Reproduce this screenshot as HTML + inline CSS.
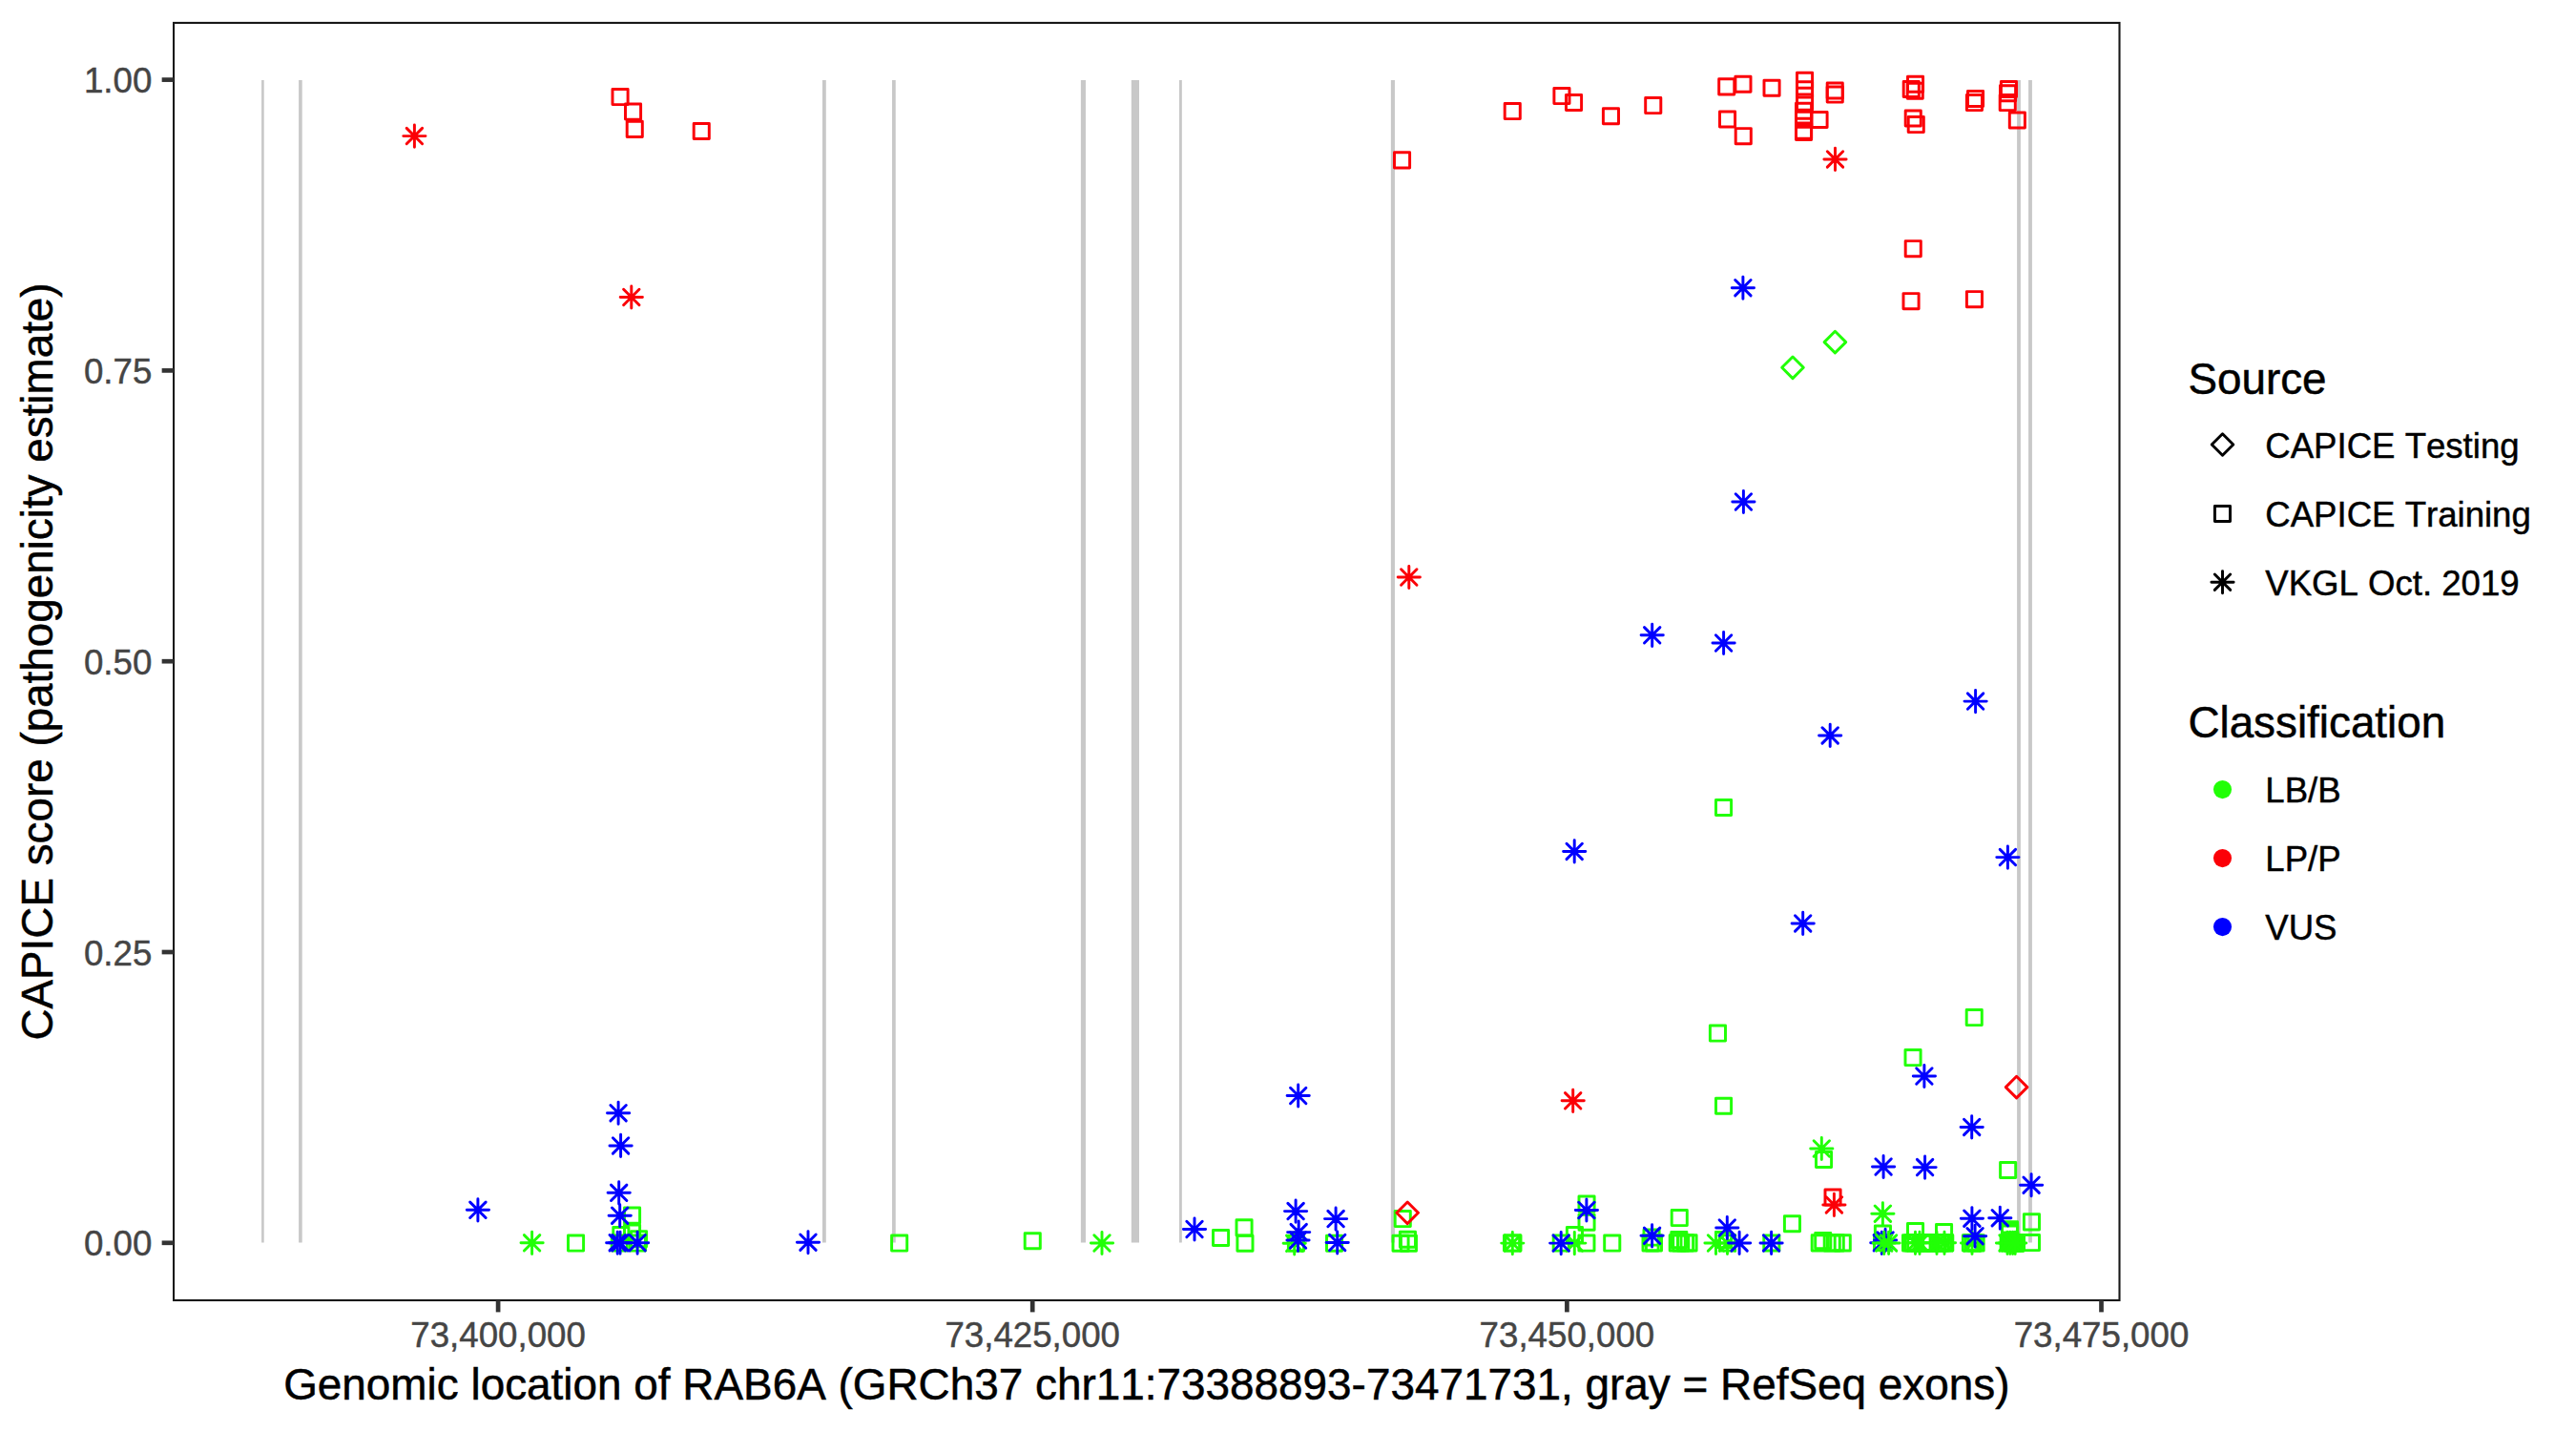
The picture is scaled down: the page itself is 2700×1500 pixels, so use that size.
<!DOCTYPE html>
<html><head><meta charset="utf-8"><title>CAPICE RAB6A</title>
<style>
html,body{margin:0;padding:0;background:#fff;}
body{width:2700px;height:1500px;overflow:hidden;}
svg{display:block;font-family:"Liberation Sans",sans-serif;font-kerning:none;}
.pts *{fill:none;stroke-width:2.95;stroke-linecap:round;stroke-linejoin:round}
.at{font-size:36.7px;fill:#454545;stroke:#454545;stroke-width:0.45}
.ti{font-size:45.8px;fill:#000;stroke:#000;stroke-width:0.5}
.lt{font-size:36.6px;fill:#000;stroke:#000;stroke-width:0.45}
</style></head><body>
<svg width="2700" height="1500" viewBox="0 0 2700 1500">
<rect x="0" y="0" width="2700" height="1500" fill="#fff"/>

<g stroke="#c8c8c8" fill="none">
<line x1="275.4" x2="275.4" y1="84.1" y2="1302.6" stroke-width="2.6"/>
<line x1="314.9" x2="314.9" y1="84.1" y2="1302.6" stroke-width="3.6"/>
<line x1="863.9" x2="863.9" y1="84.1" y2="1302.6" stroke-width="3.8"/>
<line x1="936.9" x2="936.9" y1="84.1" y2="1302.6" stroke-width="3.7"/>
<line x1="1135.4" x2="1135.4" y1="84.1" y2="1302.6" stroke-width="5.1"/>
<line x1="1189.9" x2="1189.9" y1="84.1" y2="1302.6" stroke-width="8.2"/>
<line x1="1237.4" x2="1237.4" y1="84.1" y2="1302.6" stroke-width="2.9"/>
<line x1="1459.9" x2="1459.9" y1="84.1" y2="1302.6" stroke-width="4.1"/>
<line x1="2116.0" x2="2116.0" y1="84.1" y2="1302.6" stroke-width="3.8"/>
<line x1="2128.0" x2="2128.0" y1="84.1" y2="1302.6" stroke-width="3.8"/>
</g>
<g class="pts">
<path d="M1867.7 385.3L1879.0 374.0L1890.3 385.3L1879.0 396.6Z" stroke="#21ff06"/>
<path d="M1912.1 358.6L1923.4 347.3L1934.7 358.6L1923.4 369.9Z" stroke="#21ff06"/>
<rect x="1798.5" y="838.4" width="16.1" height="16.1" stroke="#21ff06"/>
<rect x="1792.4" y="1075.0" width="16.1" height="16.1" stroke="#21ff06"/>
<rect x="1798.5" y="1151.2" width="16.1" height="16.1" stroke="#21ff06"/>
<rect x="2061.2" y="1058.5" width="16.1" height="16.1" stroke="#21ff06"/>
<rect x="1997.0" y="1100.5" width="16.1" height="16.1" stroke="#21ff06"/>
<path d="M1897.7 1204.0H1920.9M1909.3 1192.4V1215.6M1901.1 1195.8L1917.5 1212.2M1901.1 1212.2L1917.5 1195.8" stroke="#21ff06"/>
<rect x="1903.5" y="1207.4" width="16.1" height="16.1" stroke="#21ff06"/>
<rect x="2096.6" y="1218.4" width="16.1" height="16.1" stroke="#21ff06"/>
<path d="M1961.8 1272.2H1985.0M1973.4 1260.6V1283.8M1965.2 1264.0L1981.6 1280.4M1965.2 1280.4L1981.6 1264.0" stroke="#21ff06"/>
<rect x="1752.2" y="1268.5" width="16.1" height="16.1" stroke="#21ff06"/>
<rect x="1870.4" y="1274.7" width="16.1" height="16.1" stroke="#21ff06"/>
<rect x="2121.4" y="1272.8" width="16.1" height="16.1" stroke="#21ff06"/>
<rect x="1999.5" y="1282.4" width="16.1" height="16.1" stroke="#21ff06"/>
<rect x="2029.5" y="1283.5" width="16.1" height="16.1" stroke="#21ff06"/>
<rect x="1965.4" y="1285.0" width="16.1" height="16.1" stroke="#21ff06"/>
<rect x="2098.5" y="1280.7" width="16.1" height="16.1" stroke="#21ff06"/>
<rect x="1723.0" y="1289.0" width="16.1" height="16.1" stroke="#21ff06"/>
<rect x="1725.4" y="1294.8" width="16.1" height="16.1" stroke="#21ff06"/>
<rect x="1722.0" y="1294.8" width="16.1" height="16.1" stroke="#21ff06"/>
<rect x="1751.8" y="1291.5" width="16.1" height="16.1" stroke="#21ff06"/>
<rect x="1750.2" y="1294.8" width="16.1" height="16.1" stroke="#21ff06"/>
<rect x="1753.7" y="1294.8" width="16.1" height="16.1" stroke="#21ff06"/>
<rect x="1758.5" y="1294.8" width="16.1" height="16.1" stroke="#21ff06"/>
<rect x="1762.0" y="1294.8" width="16.1" height="16.1" stroke="#21ff06"/>
<path d="M1786.9 1303.0H1810.1M1798.5 1291.4V1314.6M1790.3 1294.8L1806.7 1311.2M1790.3 1311.2L1806.7 1294.8" stroke="#21ff06"/>
<path d="M1798.9 1303.0H1822.1M1810.5 1291.4V1314.6M1802.3 1294.8L1818.7 1311.2M1802.3 1311.2L1818.7 1294.8" stroke="#21ff06"/>
<rect x="1802.5" y="1294.8" width="16.1" height="16.1" stroke="#21ff06"/>
<rect x="1798.7" y="1291.5" width="16.1" height="16.1" stroke="#21ff06"/>
<rect x="1848.8" y="1294.9" width="16.1" height="16.1" stroke="#21ff06"/>
<rect x="1899.2" y="1294.8" width="16.1" height="16.1" stroke="#21ff06"/>
<rect x="1902.7" y="1292.5" width="16.1" height="16.1" stroke="#21ff06"/>
<rect x="1912.2" y="1294.8" width="16.1" height="16.1" stroke="#21ff06"/>
<rect x="1916.2" y="1294.8" width="16.1" height="16.1" stroke="#21ff06"/>
<rect x="1923.2" y="1294.8" width="16.1" height="16.1" stroke="#21ff06"/>
<rect x="1964.5" y="1294.5" width="16.1" height="16.1" stroke="#21ff06"/>
<rect x="1994.5" y="1294.8" width="16.1" height="16.1" stroke="#21ff06"/>
<rect x="1997.0" y="1294.8" width="16.1" height="16.1" stroke="#21ff06"/>
<rect x="1999.7" y="1294.8" width="16.1" height="16.1" stroke="#21ff06"/>
<rect x="2007.2" y="1294.8" width="16.1" height="16.1" stroke="#21ff06"/>
<rect x="2009.8" y="1294.8" width="16.1" height="16.1" stroke="#21ff06"/>
<rect x="2012.4" y="1294.8" width="16.1" height="16.1" stroke="#21ff06"/>
<rect x="2015.0" y="1294.8" width="16.1" height="16.1" stroke="#21ff06"/>
<rect x="2023.2" y="1294.8" width="16.1" height="16.1" stroke="#21ff06"/>
<rect x="2025.9" y="1294.8" width="16.1" height="16.1" stroke="#21ff06"/>
<rect x="2028.5" y="1294.8" width="16.1" height="16.1" stroke="#21ff06"/>
<rect x="2030.7" y="1294.8" width="16.1" height="16.1" stroke="#21ff06"/>
<path d="M1995.9 1302.8H2019.1M2007.5 1291.2V1314.4M1999.3 1294.6L2015.7 1311.0M1999.3 1311.0L2015.7 1294.6" stroke="#21ff06"/>
<path d="M2000.4 1302.8H2023.6M2012.0 1291.2V1314.4M2003.8 1294.6L2020.2 1311.0M2003.8 1311.0L2020.2 1294.6" stroke="#21ff06"/>
<path d="M2026.4 1302.8H2049.6M2038.0 1291.2V1314.4M2029.8 1294.6L2046.2 1311.0M2029.8 1311.0L2046.2 1294.6" stroke="#21ff06"/>
<path d="M2018.4 1302.8H2041.6M2030.0 1291.2V1314.4M2021.8 1294.6L2038.2 1311.0M2021.8 1311.0L2038.2 1294.6" stroke="#21ff06"/>
<rect x="2057.4" y="1294.8" width="16.1" height="16.1" stroke="#21ff06"/>
<rect x="2060.3" y="1294.8" width="16.1" height="16.1" stroke="#21ff06"/>
<rect x="2063.1" y="1294.8" width="16.1" height="16.1" stroke="#21ff06"/>
<path d="M2055.4 1302.9H2078.6M2067.0 1291.3V1314.5M2058.8 1294.7L2075.2 1311.1M2058.8 1311.1L2075.2 1294.7" stroke="#21ff06"/>
<rect x="2097.1" y="1294.8" width="16.1" height="16.1" stroke="#21ff06"/>
<rect x="2100.9" y="1294.8" width="16.1" height="16.1" stroke="#21ff06"/>
<rect x="2105.4" y="1294.8" width="16.1" height="16.1" stroke="#21ff06"/>
<rect x="2098.9" y="1292.0" width="16.1" height="16.1" stroke="#21ff06"/>
<rect x="2098.5" y="1282.9" width="16.1" height="16.1" stroke="#21ff06"/>
<rect x="2098.5" y="1285.0" width="16.1" height="16.1" stroke="#21ff06"/>
<rect x="2103.2" y="1294.8" width="16.1" height="16.1" stroke="#21ff06"/>
<rect x="2104.3" y="1294.8" width="16.1" height="16.1" stroke="#21ff06"/>
<path d="M2095.2 1302.9H2118.4M2106.8 1291.3V1314.5M2098.6 1294.7L2115.0 1311.1M2098.6 1311.1L2115.0 1294.7" stroke="#21ff06"/>
<path d="M2092.4 1302.9H2115.6M2104.0 1291.3V1314.5M2095.8 1294.7L2112.2 1311.1M2095.8 1311.1L2112.2 1294.7" stroke="#21ff06"/>
<path d="M2098.0 1302.9H2121.2M2109.6 1291.3V1314.5M2101.4 1294.7L2117.8 1311.1M2101.4 1311.1L2117.8 1294.7" stroke="#21ff06"/>
<path d="M2100.6 1302.9H2123.8M2112.2 1291.3V1314.5M2104.0 1294.7L2120.4 1311.1M2104.0 1311.1L2120.4 1294.7" stroke="#21ff06"/>
<rect x="2121.4" y="1294.5" width="16.1" height="16.1" stroke="#21ff06"/>
<rect x="1462.2" y="1269.5" width="16.1" height="16.1" stroke="#21ff06"/>
<rect x="1460.0" y="1295.2" width="16.1" height="16.1" stroke="#21ff06"/>
<rect x="1467.4" y="1291.2" width="16.1" height="16.1" stroke="#21ff06"/>
<rect x="1468.4" y="1295.2" width="16.1" height="16.1" stroke="#21ff06"/>
<path d="M1573.7 1303.1H1596.9M1585.3 1291.5V1314.7M1577.1 1294.9L1593.5 1311.3M1577.1 1311.3L1593.5 1294.9" stroke="#21ff06"/>
<rect x="1577.9" y="1295.0" width="16.1" height="16.1" stroke="#21ff06"/>
<rect x="1576.5" y="1295.0" width="16.1" height="16.1" stroke="#21ff06"/>
<rect x="1628.2" y="1295.0" width="16.1" height="16.1" stroke="#21ff06"/>
<path d="M1638.7 1303.1H1661.9M1650.3 1291.5V1314.7M1642.1 1294.9L1658.5 1311.3M1642.1 1311.3L1658.5 1294.9" stroke="#21ff06"/>
<rect x="1642.4" y="1286.4" width="16.1" height="16.1" stroke="#21ff06"/>
<rect x="1655.0" y="1254.0" width="16.1" height="16.1" stroke="#21ff06"/>
<rect x="1655.0" y="1273.2" width="16.1" height="16.1" stroke="#21ff06"/>
<rect x="1654.9" y="1295.0" width="16.1" height="16.1" stroke="#21ff06"/>
<rect x="1681.7" y="1295.0" width="16.1" height="16.1" stroke="#21ff06"/>
<path d="M1143.4 1303.0H1166.6M1155.0 1291.4V1314.6M1146.8 1294.8L1163.2 1311.2M1146.8 1311.2L1163.2 1294.8" stroke="#21ff06"/>
<rect x="1271.5" y="1289.4" width="16.1" height="16.1" stroke="#21ff06"/>
<rect x="1296.0" y="1278.8" width="16.1" height="16.1" stroke="#21ff06"/>
<rect x="1296.9" y="1295.2" width="16.1" height="16.1" stroke="#21ff06"/>
<path d="M1345.1 1303.3H1368.3M1356.7 1291.7V1314.9M1348.5 1295.1L1364.9 1311.5M1348.5 1311.5L1364.9 1295.1" stroke="#21ff06"/>
<rect x="1350.4" y="1295.2" width="16.1" height="16.1" stroke="#21ff06"/>
<rect x="1390.5" y="1295.2" width="16.1" height="16.1" stroke="#21ff06"/>
<path d="M546.0 1302.8H569.2M557.6 1291.2V1314.4M549.4 1294.6L565.8 1311.0M549.4 1311.0L565.8 1294.6" stroke="#21ff06"/>
<rect x="595.5" y="1295.0" width="16.1" height="16.1" stroke="#21ff06"/>
<rect x="654.5" y="1266.0" width="16.1" height="16.1" stroke="#21ff06"/>
<rect x="642.8" y="1286.5" width="16.1" height="16.1" stroke="#21ff06"/>
<rect x="654.5" y="1284.0" width="16.1" height="16.1" stroke="#21ff06"/>
<rect x="661.5" y="1290.7" width="16.1" height="16.1" stroke="#21ff06"/>
<rect x="641.2" y="1295.0" width="16.1" height="16.1" stroke="#21ff06"/>
<rect x="660.4" y="1295.0" width="16.1" height="16.1" stroke="#21ff06"/>
<rect x="934.6" y="1295.0" width="16.1" height="16.1" stroke="#21ff06"/>
<rect x="1074.2" y="1292.7" width="16.1" height="16.1" stroke="#21ff06"/>
<path d="M422.8 142.6H446.0M434.4 131.0V154.2M426.2 134.4L442.6 150.8M426.2 150.8L442.6 134.4" stroke="#fb0007"/>
<rect x="642.0" y="93.5" width="16.1" height="16.1" stroke="#fb0007"/>
<rect x="655.5" y="109.0" width="16.1" height="16.1" stroke="#fb0007"/>
<rect x="657.2" y="127.3" width="16.1" height="16.1" stroke="#fb0007"/>
<rect x="727.2" y="129.4" width="16.1" height="16.1" stroke="#fb0007"/>
<path d="M650.2 311.5H673.4M661.8 299.9V323.1M653.6 303.3L670.0 319.7M653.6 319.7L670.0 303.3" stroke="#fb0007"/>
<rect x="1461.5" y="159.8" width="16.1" height="16.1" stroke="#fb0007"/>
<rect x="1577.2" y="108.5" width="16.1" height="16.1" stroke="#fb0007"/>
<rect x="1628.9" y="92.5" width="16.1" height="16.1" stroke="#fb0007"/>
<rect x="1641.5" y="99.4" width="16.1" height="16.1" stroke="#fb0007"/>
<rect x="1680.4" y="113.7" width="16.1" height="16.1" stroke="#fb0007"/>
<rect x="1724.7" y="102.5" width="16.1" height="16.1" stroke="#fb0007"/>
<rect x="1801.7" y="82.8" width="16.1" height="16.1" stroke="#fb0007"/>
<rect x="1818.9" y="80.2" width="16.1" height="16.1" stroke="#fb0007"/>
<rect x="1849.0" y="84.2" width="16.1" height="16.1" stroke="#fb0007"/>
<rect x="1802.5" y="116.9" width="16.1" height="16.1" stroke="#fb0007"/>
<rect x="1819.2" y="134.6" width="16.1" height="16.1" stroke="#fb0007"/>
<rect x="1883.5" y="76.2" width="16.1" height="16.1" stroke="#fb0007"/>
<rect x="1883.5" y="85.8" width="16.1" height="16.1" stroke="#fb0007"/>
<rect x="1883.5" y="99.0" width="16.1" height="16.1" stroke="#fb0007"/>
<rect x="1882.5" y="108.2" width="16.1" height="16.1" stroke="#fb0007"/>
<rect x="1882.5" y="117.2" width="16.1" height="16.1" stroke="#fb0007"/>
<rect x="1882.5" y="129.0" width="16.1" height="16.1" stroke="#fb0007"/>
<rect x="1882.5" y="130.4" width="16.1" height="16.1" stroke="#fb0007"/>
<rect x="1899.0" y="117.4" width="16.1" height="16.1" stroke="#fb0007"/>
<rect x="1915.2" y="86.9" width="16.1" height="16.1" stroke="#fb0007"/>
<rect x="1915.2" y="91.0" width="16.1" height="16.1" stroke="#fb0007"/>
<rect x="1995.2" y="85.4" width="16.1" height="16.1" stroke="#fb0007"/>
<rect x="1999.5" y="80.2" width="16.1" height="16.1" stroke="#fb0007"/>
<rect x="1999.2" y="87.2" width="16.1" height="16.1" stroke="#fb0007"/>
<rect x="1997.2" y="115.9" width="16.1" height="16.1" stroke="#fb0007"/>
<rect x="2000.2" y="122.5" width="16.1" height="16.1" stroke="#fb0007"/>
<path d="M1911.9 166.9H1935.1M1923.5 155.3V178.5M1915.3 158.7L1931.7 175.1M1915.3 175.1L1931.7 158.7" stroke="#fb0007"/>
<rect x="2062.5" y="95.4" width="16.1" height="16.1" stroke="#fb0007"/>
<rect x="2061.4" y="99.5" width="16.1" height="16.1" stroke="#fb0007"/>
<rect x="2097.4" y="85.5" width="16.1" height="16.1" stroke="#fb0007"/>
<rect x="2096.5" y="89.7" width="16.1" height="16.1" stroke="#fb0007"/>
<rect x="2096.2" y="99.5" width="16.1" height="16.1" stroke="#fb0007"/>
<rect x="2106.3" y="117.9" width="16.1" height="16.1" stroke="#fb0007"/>
<rect x="1997.2" y="252.6" width="16.1" height="16.1" stroke="#fb0007"/>
<rect x="1995.0" y="307.6" width="16.1" height="16.1" stroke="#fb0007"/>
<rect x="2061.4" y="305.6" width="16.1" height="16.1" stroke="#fb0007"/>
<path d="M1465.2 605.0H1488.4M1476.8 593.4V616.6M1468.6 596.8L1485.0 613.2M1468.6 613.2L1485.0 596.8" stroke="#fb0007"/>
<path d="M1637.1 1153.8H1660.3M1648.7 1142.2V1165.4M1640.5 1145.6L1656.9 1162.0M1640.5 1162.0L1656.9 1145.6" stroke="#fb0007"/>
<path d="M2102.3 1139.6L2113.6 1128.3L2124.9 1139.6L2113.6 1150.9Z" stroke="#fb0007"/>
<rect x="1913.0" y="1247.0" width="16.1" height="16.1" stroke="#fb0007"/>
<path d="M1910.8 1262.9H1934.0M1922.4 1251.3V1274.5M1914.2 1254.7L1930.6 1271.1M1914.2 1271.1L1930.6 1254.7" stroke="#fb0007"/>
<path d="M1463.9 1271.3L1475.2 1260.0L1486.5 1271.3L1475.2 1282.6Z" stroke="#fb0007"/>
<path d="M1815.3 301.7H1838.5M1826.9 290.1V313.3M1818.7 293.5L1835.1 309.9M1818.7 309.9L1835.1 293.5" stroke="#0000ff"/>
<path d="M1815.8 526.0H1839.0M1827.4 514.4V537.6M1819.2 517.8L1835.6 534.2M1819.2 534.2L1835.6 517.8" stroke="#0000ff"/>
<path d="M1720.1 665.8H1743.3M1731.7 654.2V677.4M1723.5 657.6L1739.9 674.0M1723.5 674.0L1739.9 657.6" stroke="#0000ff"/>
<path d="M1795.0 674.0H1818.2M1806.6 662.4V685.6M1798.4 665.8L1814.8 682.2M1798.4 682.2L1814.8 665.8" stroke="#0000ff"/>
<path d="M2059.0 735.1H2082.2M2070.6 723.5V746.7M2062.4 726.9L2078.8 743.3M2062.4 743.3L2078.8 726.9" stroke="#0000ff"/>
<path d="M1906.6 770.9H1929.8M1918.2 759.3V782.5M1910.0 762.7L1926.4 779.1M1910.0 779.1L1926.4 762.7" stroke="#0000ff"/>
<path d="M1638.6 892.4H1661.8M1650.2 880.8V904.0M1642.0 884.2L1658.4 900.6M1642.0 900.6L1658.4 884.2" stroke="#0000ff"/>
<path d="M2092.8 898.6H2116.0M2104.4 887.0V910.2M2096.2 890.4L2112.6 906.8M2096.2 906.8L2112.6 890.4" stroke="#0000ff"/>
<path d="M1878.1 967.9H1901.3M1889.7 956.3V979.5M1881.5 959.7L1897.9 976.1M1881.5 976.1L1897.9 959.7" stroke="#0000ff"/>
<path d="M2005.3 1128.0H2028.5M2016.9 1116.4V1139.6M2008.7 1119.8L2025.1 1136.2M2008.7 1136.2L2025.1 1119.8" stroke="#0000ff"/>
<path d="M2055.1 1181.4H2078.3M2066.7 1169.8V1193.0M2058.5 1173.2L2074.9 1189.6M2058.5 1189.6L2074.9 1173.2" stroke="#0000ff"/>
<path d="M1962.5 1223.0H1985.7M1974.1 1211.4V1234.6M1965.9 1214.8L1982.3 1231.2M1965.9 1231.2L1982.3 1214.8" stroke="#0000ff"/>
<path d="M2006.0 1223.6H2029.2M2017.6 1212.0V1235.2M2009.4 1215.4L2025.8 1231.8M2009.4 1231.8L2025.8 1215.4" stroke="#0000ff"/>
<path d="M2117.5 1242.2H2140.7M2129.1 1230.6V1253.8M2120.9 1234.0L2137.3 1250.4M2120.9 1250.4L2137.3 1234.0" stroke="#0000ff"/>
<path d="M2055.3 1277.2H2078.5M2066.9 1265.6V1288.8M2058.7 1269.0L2075.1 1285.4M2058.7 1285.4L2075.1 1269.0" stroke="#0000ff"/>
<path d="M2084.7 1276.7H2107.9M2096.3 1265.1V1288.3M2088.1 1268.5L2104.5 1284.9M2088.1 1284.9L2104.5 1268.5" stroke="#0000ff"/>
<path d="M2058.5 1295.7H2081.7M2070.1 1284.1V1307.3M2061.9 1287.5L2078.3 1303.9M2061.9 1303.9L2078.3 1287.5" stroke="#0000ff"/>
<path d="M1798.7 1287.0H1821.9M1810.3 1275.4V1298.6M1802.1 1278.8L1818.5 1295.2M1802.1 1295.2L1818.5 1278.8" stroke="#0000ff"/>
<path d="M1720.0 1295.3H1743.2M1731.6 1283.7V1306.9M1723.4 1287.1L1739.8 1303.5M1723.4 1303.5L1739.8 1287.1" stroke="#0000ff"/>
<path d="M1811.5 1302.9H1834.7M1823.1 1291.3V1314.5M1814.9 1294.7L1831.3 1311.1M1814.9 1311.1L1831.3 1294.7" stroke="#0000ff"/>
<path d="M1845.0 1302.9H1868.2M1856.6 1291.3V1314.5M1848.4 1294.7L1864.8 1311.1M1848.4 1311.1L1864.8 1294.7" stroke="#0000ff"/>
<path d="M1960.7 1302.8H1983.9M1972.3 1291.2V1314.4M1964.1 1294.6L1980.5 1311.0M1964.1 1311.0L1980.5 1294.6" stroke="#0000ff"/>
<path d="M1964.5 1299.9H1987.7M1976.1 1288.3V1311.5M1967.9 1291.7L1984.3 1308.1M1967.9 1308.1L1984.3 1291.7" stroke="#0000ff"/>
<path d="M1963.2 1302.9H1986.4M1974.8 1291.3V1314.5M1966.6 1294.7L1983.0 1311.1M1966.6 1311.1L1983.0 1294.7" stroke="#21ff06"/>
<path d="M1968.0 1302.9H1991.2M1979.6 1291.3V1314.5M1971.4 1294.7L1987.8 1311.1M1971.4 1311.1L1987.8 1294.7" stroke="#21ff06"/>
<path d="M1624.6 1303.1H1647.8M1636.2 1291.5V1314.7M1628.0 1294.9L1644.4 1311.3M1628.0 1311.3L1644.4 1294.9" stroke="#0000ff"/>
<path d="M1651.3 1268.5H1674.5M1662.9 1256.9V1280.1M1654.7 1260.3L1671.1 1276.7M1654.7 1276.7L1671.1 1260.3" stroke="#0000ff"/>
<path d="M1240.4 1288.5H1263.6M1252.0 1276.9V1300.1M1243.8 1280.3L1260.2 1296.7M1243.8 1296.7L1260.2 1280.3" stroke="#0000ff"/>
<path d="M1349.1 1148.5H1372.3M1360.7 1136.9V1160.1M1352.5 1140.3L1368.9 1156.7M1352.5 1156.7L1368.9 1140.3" stroke="#0000ff"/>
<path d="M1346.5 1269.6H1369.7M1358.1 1258.0V1281.2M1349.9 1261.4L1366.3 1277.8M1349.9 1277.8L1366.3 1261.4" stroke="#0000ff"/>
<path d="M1349.6 1291.6H1372.8M1361.2 1280.0V1303.2M1353.0 1283.4L1369.4 1299.8M1353.0 1299.8L1369.4 1283.4" stroke="#0000ff"/>
<path d="M1348.9 1300.0H1372.1M1360.5 1288.4V1311.6M1352.3 1291.8L1368.7 1308.2M1352.3 1308.2L1368.7 1291.8" stroke="#0000ff"/>
<path d="M1388.5 1277.6H1411.7M1400.1 1266.0V1289.2M1391.9 1269.4L1408.3 1285.8M1391.9 1285.8L1408.3 1269.4" stroke="#0000ff"/>
<path d="M1390.1 1302.5H1413.3M1401.7 1290.9V1314.1M1393.5 1294.3L1409.9 1310.7M1393.5 1310.7L1409.9 1294.3" stroke="#0000ff"/>
<path d="M489.3 1268.3H512.5M500.9 1256.7V1279.9M492.7 1260.1L509.1 1276.5M492.7 1276.5L509.1 1260.1" stroke="#0000ff"/>
<path d="M636.5 1166.7H659.7M648.1 1155.1V1178.3M639.9 1158.5L656.3 1174.9M639.9 1174.9L656.3 1158.5" stroke="#0000ff"/>
<path d="M639.0 1200.9H662.2M650.6 1189.3V1212.5M642.4 1192.7L658.8 1209.1M642.4 1209.1L658.8 1192.7" stroke="#0000ff"/>
<path d="M637.1 1250.3H660.3M648.7 1238.7V1261.9M640.5 1242.1L656.9 1258.5M640.5 1258.5L656.9 1242.1" stroke="#0000ff"/>
<path d="M638.1 1274.2H661.3M649.7 1262.6V1285.8M641.5 1266.0L657.9 1282.4M641.5 1282.4L657.9 1266.0" stroke="#0000ff"/>
<path d="M635.6 1302.7H658.8M647.2 1291.1V1314.3M639.0 1294.5L655.4 1310.9M639.0 1310.9L655.4 1294.5" stroke="#0000ff"/>
<path d="M638.4 1302.7H661.6M650.0 1291.1V1314.3M641.8 1294.5L658.2 1310.9M641.8 1310.9L658.2 1294.5" stroke="#0000ff"/>
<path d="M656.5 1302.7H679.7M668.1 1291.1V1314.3M659.9 1294.5L676.3 1310.9M659.9 1310.9L676.3 1294.5" stroke="#0000ff"/>
<path d="M835.4 1302.2H858.6M847.0 1290.6V1313.8M838.8 1294.0L855.2 1310.4M838.8 1310.4L855.2 1294.0" stroke="#0000ff"/>
</g>
<rect x="182.05" y="23.95" width="2039.45" height="1339.05" fill="none" stroke="#181818" stroke-width="2.1"/>
<g stroke="#333" stroke-width="4.7">
<line x1="169.65" x2="182.05" y1="1302.8" y2="1302.8"/>
<line x1="169.65" x2="182.05" y1="998.0" y2="998.0"/>
<line x1="169.65" x2="182.05" y1="693.2" y2="693.2"/>
<line x1="169.65" x2="182.05" y1="388.4" y2="388.4"/>
<line x1="169.65" x2="182.05" y1="83.6" y2="83.6"/>
<line x1="522.1" x2="522.1" y1="1363.0" y2="1375.4"/>
<line x1="1082.2" x2="1082.2" y1="1363.0" y2="1375.4"/>
<line x1="1642.4" x2="1642.4" y1="1363.0" y2="1375.4"/>
<line x1="2202.5" x2="2202.5" y1="1363.0" y2="1375.4"/>
</g>
<text class="at" text-anchor="end" x="159.3" y="1316.4">0.00</text>
<text class="at" text-anchor="end" x="159.3" y="1011.6">0.25</text>
<text class="at" text-anchor="end" x="159.3" y="706.8">0.50</text>
<text class="at" text-anchor="end" x="159.3" y="402.0">0.75</text>
<text class="at" text-anchor="end" x="159.3" y="97.2">1.00</text>
<text class="at" text-anchor="middle" x="522.1" y="1412.4">73,400,000</text>
<text class="at" text-anchor="middle" x="1082.2" y="1412.4">73,425,000</text>
<text class="at" text-anchor="middle" x="1642.4" y="1412.4">73,450,000</text>
<text class="at" text-anchor="middle" x="2202.5" y="1412.4">73,475,000</text>
<text class="ti" text-anchor="middle" x="1201.8" y="1466.8" style="font-size:45.88px">Genomic location of RAB6A (GRCh37 chr11:73388893-73471731, gray = RefSeq exons)</text>
<text class="ti" text-anchor="middle" transform="translate(55.2,693.5) rotate(-90)">CAPICE score (pathogenicity estimate)</text>
<text class="ti" x="2293.4" y="412.7">Source</text>
<text class="ti" x="2293.4" y="773.2">Classification</text>
<g class="pts">
<path d="M2318.2 466.0L2329.5 454.7L2340.8 466.0L2329.5 477.3Z" stroke="#000"/>
<rect x="2321.4" y="530.4" width="16.1" height="16.1" stroke="#000"/>
<path d="M2317.9 610.2H2341.1M2329.5 598.6V621.8M2321.3 602.0L2337.7 618.4M2321.3 618.4L2337.7 602.0" stroke="#000"/>
</g>
<text class="lt" x="2374.3" y="480.2">CAPICE Testing</text>
<text class="lt" x="2374.3" y="551.9">CAPICE Training</text>
<text class="lt" x="2374.3" y="624">VKGL Oct. 2019</text>
<text class="lt" x="2374.3" y="841.3">LB/B</text>
<text class="lt" x="2374.3" y="913.3">LP/P</text>
<text class="lt" x="2374.3" y="985.3">VUS</text>
<circle cx="2329.5" cy="827.6" r="9.55" fill="#21ff06"/>
<circle cx="2329.5" cy="899.6" r="9.55" fill="#fb0007"/>
<circle cx="2329.5" cy="971.6" r="9.55" fill="#0000ff"/>
</svg></body></html>
